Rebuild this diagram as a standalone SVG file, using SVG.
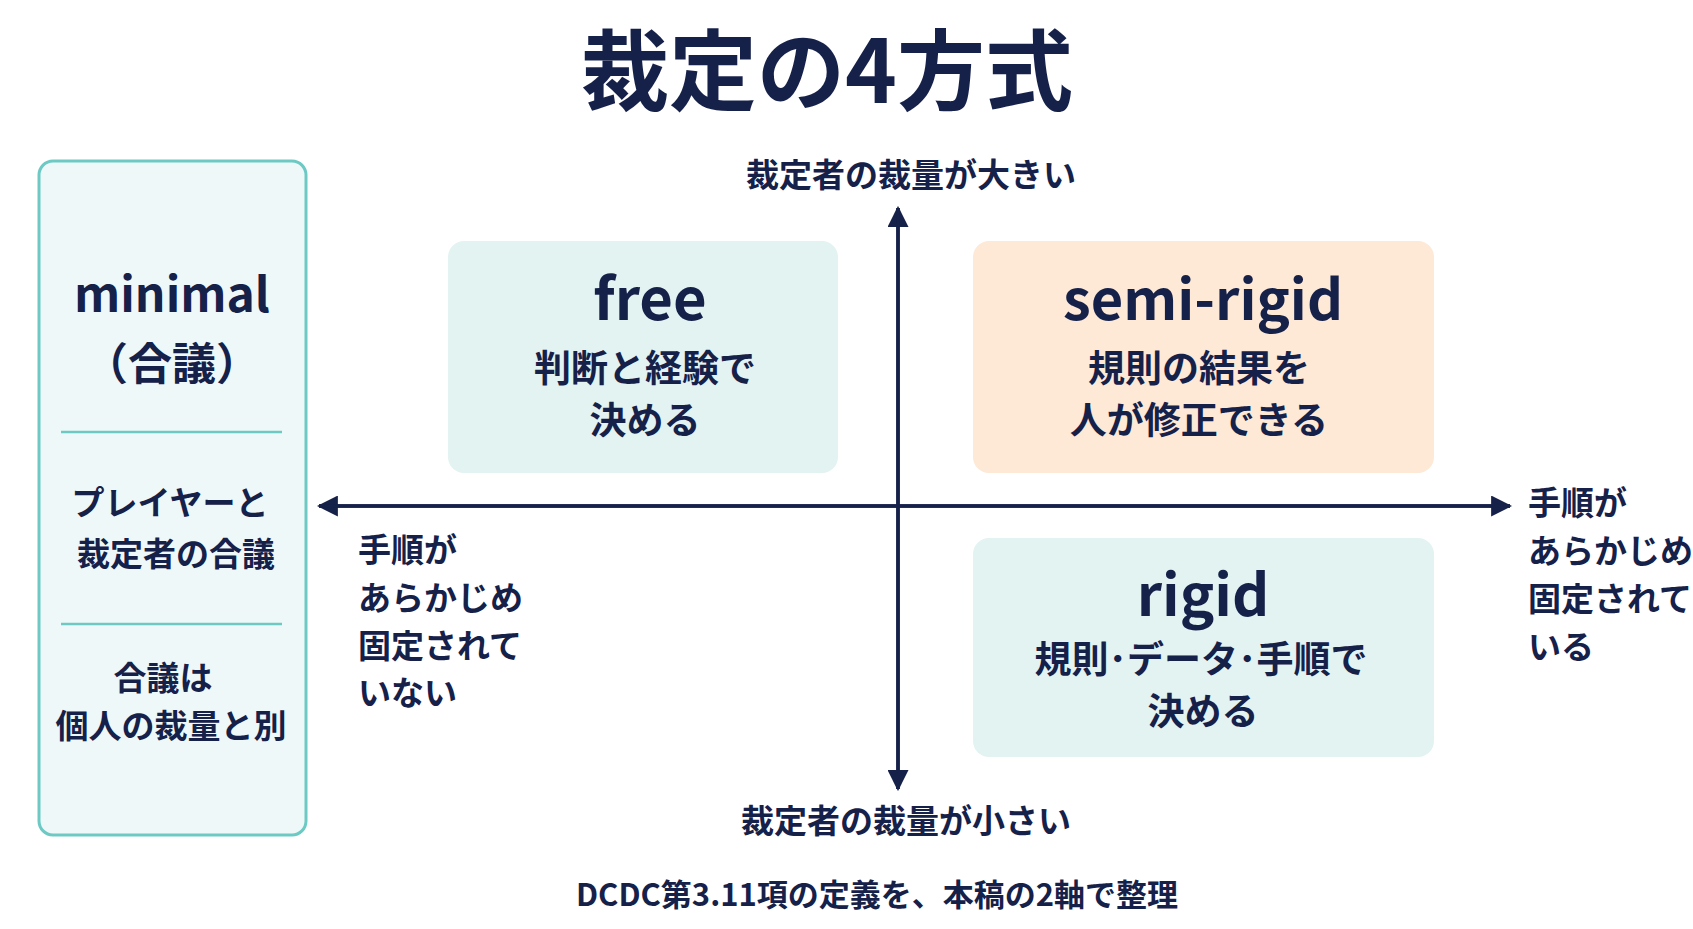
<svg xmlns="http://www.w3.org/2000/svg" width="1693" height="929" viewBox="0 0 1693 929">
<style>
text{font-family:"Noto Sans CJK JP","Noto Sans",sans-serif;fill:#16214a;font-weight:bold}
.c{text-anchor:middle}
.h{font-size:52px}
.b{font-size:37px}
.s{font-size:33px}
.ax{stroke:#16214a;stroke-width:3.5;fill:none}
</style>
<defs><marker id="ar" viewBox="0 0 10 10" refX="9" refY="5" markerWidth="6" markerHeight="6" orient="auto"><path d="M0,0L10,5L0,10z" fill="#16214a"/></marker></defs>
<rect width="1693" height="929" fill="#fff"/>
<text class="c" x="827" y="103" font-size="88" font-weight="900">裁定の4方式</text>
<g id="minimal">
<rect x="39" y="161" width="267" height="674" rx="14" fill="#eef8f8" stroke="#6cc9c4" stroke-width="3"/>
<text class="c" x="172" y="312" font-size="48">minimal</text>
<text class="c" x="172" y="380" font-size="44">（合議）</text>
<line x1="61" y1="432" x2="282" y2="432" stroke="#6cc9c4" stroke-width="2.5"/>
<text class="c s" x="170" y="515">プレイヤーと</text>
<text class="c s" x="176" y="566">裁定者の合議</text>
<line x1="61" y1="624" x2="282" y2="624" stroke="#6cc9c4" stroke-width="2.5"/>
<text class="c s" x="163" y="690">合議は</text>
<text class="c s" x="171" y="738">個人の裁量と別</text>
</g>
<g id="connectors">
<line class="ax" x1="898" y1="789" x2="898" y2="208" marker-end="url(#ar)"/>
<line class="ax" x1="898" y1="208" x2="898" y2="789" marker-end="url(#ar)"/>
<line class="ax" x1="1510" y1="506" x2="319" y2="506" marker-end="url(#ar)"/>
<line class="ax" x1="319" y1="506" x2="1510" y2="506" marker-end="url(#ar)"/>
</g>
<g id="labels">
<text class="c s" x="911" y="187">裁定者の裁量が大きい</text>
<text class="c s" x="906" y="833">裁定者の裁量が小さい</text>
<text class="s" x="358" y="562">手順が</text>
<text class="s" x="358" y="610">あらかじめ</text>
<text class="s" x="358" y="658">固定されて</text>
<text class="s" x="358" y="705">いない</text>
<text class="s" x="1528" y="515">手順が</text>
<text class="s" x="1528" y="563">あらかじめ</text>
<text class="s" x="1528" y="611">固定されて</text>
<text class="s" x="1528" y="659">いる</text>
<text class="c" x="877" y="906" font-size="31">DCDC第3.11項の定義を、本稿の2軸で整理</text>
</g>
<g id="free">
<rect x="448" y="241" width="390" height="232" rx="16" fill="#e3f3f2"/>
<text class="c" x="650" y="320" font-size="58">free</text>
<text class="c b" x="645" y="382">判断と経験で</text>
<text class="c b" x="645" y="434">決める</text>
</g>
<g id="semi-rigid">
<rect x="973" y="241" width="461" height="232" rx="16" fill="#fde9d6"/>
<text class="c" x="1203" y="320" font-size="56">semi-rigid</text>
<text class="c b" x="1199" y="382">規則の結果を</text>
<text class="c b" x="1199" y="434">人が修正できる</text>
</g>
<g id="rigid">
<rect x="973" y="538" width="461" height="219" rx="16" fill="#e3f3f2"/>
<text class="c" x="1203" y="616" font-size="58">rigid</text>
<text class="c b" x="1201" y="673">規則･データ･手順で</text>
<text class="c b" x="1203" y="725">決める</text>
</g>
</svg>
